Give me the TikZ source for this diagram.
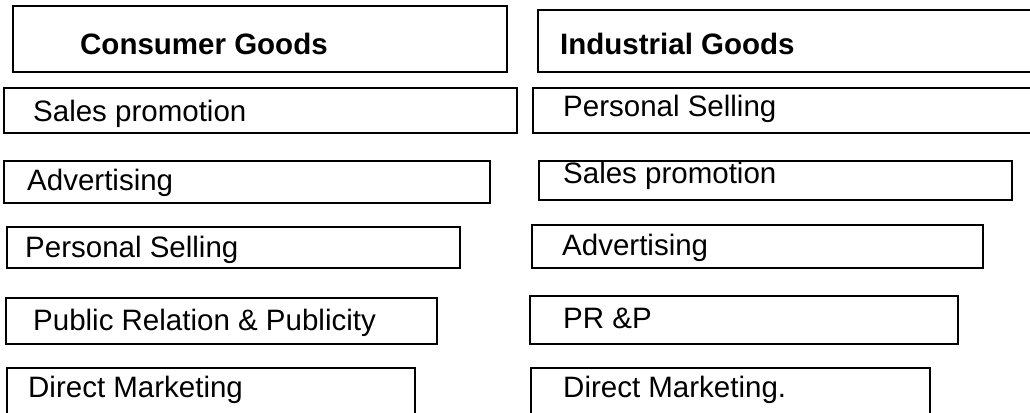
\documentclass[tikz,border=0pt]{standalone}
\usepackage{fontspec}
\setmainfont{Liberation Sans}
\begin{document}
\begin{tikzpicture}[x=1pt,y=-1pt,
  box/.style={draw=black,line width=1.8pt,rectangle,inner sep=0pt,outer sep=0pt,anchor=north west},
  lbl/.style={anchor=base west,inner sep=0pt,font=\fontsize{29.5}{34}\selectfont},
  hlbl/.style={lbl,font=\fontsize{29.5}{34}\selectfont\bfseries}]
\useasboundingbox (0,0) rectangle (1030,412);
\clip (0,0) rectangle (1030,412);
\fill[white] (0,0) rectangle (1030,412);
% left column
\node[box,minimum width=494pt,minimum height=66pt] (L1) at (13,6) {};
\node[hlbl] (t1) at (80,55) {Consumer Goods};
\node[box,minimum width=513pt,minimum height=45pt] (L2) at (4,88) {};
\node[lbl] (t2) at (33,121) {Sales promotion};
\node[box,minimum width=486pt,minimum height=42pt] (L3) at (4,161) {};
\node[lbl] (t3) at (27,190) {Advertising};
\node[box,minimum width=453pt,minimum height=41pt] (L4) at (7,227) {};
\node[lbl] (t4) at (25,257) {Personal Selling};
\node[box,minimum width=431pt,minimum height=46pt] (L5) at (6,298) {};
\node[lbl] (t5) at (33,330) {Public Relation \& Publicity};
\node[box,minimum width=408pt,minimum height=60pt] (L6) at (7,368) {};
\node[lbl] (t6) at (28,397) {Direct Marketing};
% right column
\node[box,minimum width=510pt,minimum height=62pt] (R1) at (538,10) {};
\node[hlbl] (u1) at (560,55) {Industrial Goods};
\node[box,minimum width=510pt,minimum height=45pt] (R2) at (533,88) {};
\node[lbl] (u2) at (563,116) {Personal Selling};
\node[box,minimum width=473pt,minimum height=39pt] (R3) at (539,161) {};
\node[lbl] (u3) at (563,183) {Sales promotion};
\node[box,minimum width=451pt,minimum height=43pt] (R4) at (532,225) {};
\node[lbl] (u4) at (562,255) {Advertising};
\node[box,minimum width=428pt,minimum height=48pt] (R5) at (530,296) {};
\node[lbl] (u5) at (563,328) {PR \&P};
\node[box,minimum width=399pt,minimum height=60pt] (R6) at (531,368) {};
\node[lbl] (u6) at (563,397) {Direct Marketing.};
\end{tikzpicture}
\end{document}
